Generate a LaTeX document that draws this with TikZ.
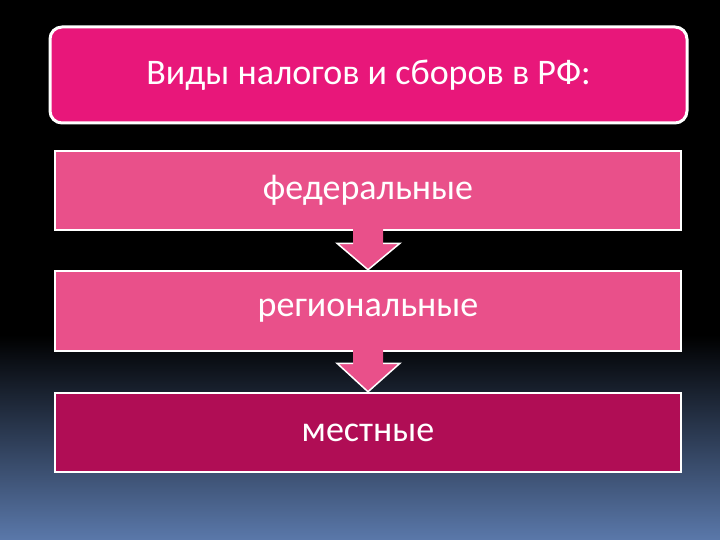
\documentclass[tikz,border=0pt]{standalone}
\usepackage{fontspec}
\setmainfont{Carlito}
\definecolor{hotpink}{HTML}{E8177A}
\definecolor{midpink}{HTML}{E9508A}
\definecolor{darkpink}{HTML}{B00D55}
\definecolor{bgblue}{HTML}{5A78AA}
\tikzset{
  box/.style={draw=white, line width=2.5pt, minimum width=626pt, inner sep=0pt, text=white, font=\fontsize{36}{40}\selectfont},
  arrowfill/.style={fill=midpink},
  arrowedge/.style={draw=white, line width=1.5pt, line join=miter}
}
\begin{document}
\begin{tikzpicture}[x=1pt,y=-1pt]
\useasboundingbox (0,0) rectangle (720,540);
\fill[black] (0,0) rectangle (720,540);
\shade[top color=black, bottom color=bgblue] (0,335) rectangle (720,540);
\node[draw=white, line width=3pt, fill=hotpink, rounded corners=12pt, minimum width=637pt, minimum height=96pt, inner sep=0pt, text=white, font=\fontsize{36}{40}\selectfont] (title) at (368.5,75) {Виды налогов и сборов в РФ:};
\node[box, fill=midpink, minimum height=79pt] (fed) at (368,190.5) {федеральные};
\node[box, fill=midpink, minimum height=80pt] (reg) at (368,311) {региональные};
\node[box, fill=darkpink, minimum height=79pt] (loc) at (368,432.5) {местные};
% arrows
\path[arrowfill] ([xshift=-15pt,yshift=4pt]fed.south) -- ([xshift=-15pt,yshift=-12pt]fed.south) -- ([xshift=-31pt,yshift=-12pt]fed.south) -- (reg.north) -- ([xshift=32pt,yshift=-12pt]fed.south) -- ([xshift=15pt,yshift=-12pt]fed.south) -- ([xshift=15pt,yshift=4pt]fed.south) -- cycle;
\path[arrowedge] ([xshift=-15pt,yshift=-12pt]fed.south) -- ([xshift=-31pt,yshift=-12pt]fed.south) -- (reg.north) -- ([xshift=32pt,yshift=-12pt]fed.south) -- ([xshift=15pt,yshift=-12pt]fed.south);
\path[arrowfill] ([xshift=-15pt,yshift=4pt]reg.south) -- ([xshift=-15pt,yshift=-11pt]reg.south) -- ([xshift=-31pt,yshift=-11pt]reg.south) -- (loc.north) -- ([xshift=32pt,yshift=-11pt]reg.south) -- ([xshift=15pt,yshift=-11pt]reg.south) -- ([xshift=15pt,yshift=4pt]reg.south) -- cycle;
\path[arrowedge] ([xshift=-15pt,yshift=-11pt]reg.south) -- ([xshift=-31pt,yshift=-11pt]reg.south) -- (loc.north) -- ([xshift=32pt,yshift=-11pt]reg.south) -- ([xshift=15pt,yshift=-11pt]reg.south);
\end{tikzpicture}
\end{document}
